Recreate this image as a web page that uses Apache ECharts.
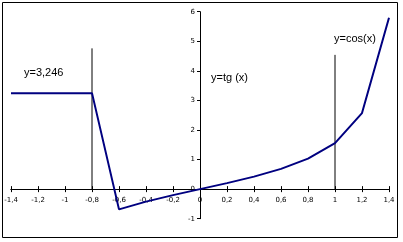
<!DOCTYPE html>
<html>
<head>
<meta charset="utf-8">
<script src="https://cdn.jsdelivr.net/npm/echarts@6/dist/echarts.min.js"></script>
<style>
  html, body { margin: 0; padding: 0; background: #fff; }
  #main { width: 403px; height: 242px; }
</style>
</head>
<body>
<div id="main"></div>
<script>
// x values and the plotted function values
const xValues = [-1.4, -1.2, -1, -0.8, -0.6, -0.4, -0.2, 0, 0.2, 0.4, 0.6, 0.8, 1, 1.2, 1.4];
const yValues = [3.246, 3.246, 3.246, 3.246, -0.684, -0.423, -0.203, 0, 0.203, 0.423, 0.684, 1.03, 1.557, 2.572, 5.798];

// vertical marker lines (x position, top value)
const markerX = [-0.8, 1];
const markerTop = [4.76, 4.54];

const annotations = ['y=3,246', 'y=tg (x)', 'y=cos(x)'];

const chart = echarts.init(document.getElementById('main'));

const fmt = (v) => String(+v.toFixed(1)).replace('.', ',');

const tickFont = { fontFamily: 'DejaVu Sans', fontSize: 7, color: '#000' };

// ECharts only lets one of the two axes snap to zero, so the y axis is
// shifted into the middle of the grid by hand (x range is symmetric)
const gridLeft = 11, gridRight = 14;
const yAxisShift = -(403 - gridLeft - gridRight) / 2;

const xBase = { type: 'value', min: -1.4, max: 1.4, interval: 0.2, splitLine: { show: false } };
const yBase = { type: 'value', min: -1, max: 6, interval: 1, splitLine: { show: false } };

const option = {
  backgroundColor: '#fff',
  animation: false,
  grid: { left: gridLeft, right: gridRight, top: 11.7, bottom: 23.3 },
  xAxis: [
    Object.assign({}, xBase, {
      position: 'bottom',
      axisLine: { onZero: true, onZeroAxisIndex: 0, lineStyle: { color: '#000', width: 1 } },
      axisTick: { show: true, length: 3, lineStyle: { color: '#000' } },
      // labels stay on the grid edge, pull them up under the zero line
      axisLabel: Object.assign({ margin: -22, formatter: fmt }, tickFont)
    }),
    // second copy only to get the upper half of the crossing ticks
    Object.assign({}, xBase, {
      position: 'top',
      axisLine: { onZero: true, onZeroAxisIndex: 1, lineStyle: { color: '#000', width: 1 } },
      axisTick: { show: true, length: 3, lineStyle: { color: '#000' } },
      axisLabel: { show: false }
    })
  ],
  yAxis: [
    Object.assign({}, yBase, {
      offset: yAxisShift,
      axisLine: { show: true, onZero: false, lineStyle: { color: '#000', width: 1 } },
      axisTick: { show: true, length: 3, lineStyle: { color: '#000' } },
      axisLabel: Object.assign({ margin: 5 }, tickFont)
    }),
    Object.assign({}, yBase, {
      position: 'left',
      axisLine: { show: false, onZero: false },
      axisTick: { show: false },
      axisLabel: { show: false }
    })
  ],
  series: [
    {
      type: 'line',
      data: xValues.map((x, i) => [x, yValues[i]]),
      showSymbol: false,
      lineStyle: { color: '#000080', width: 2 },
      z: 3
    }
  ].concat(markerX.map((x, i) => ({
    type: 'line',
    data: [[x, 0], [x, markerTop[i]]],
    showSymbol: false,
    lineStyle: { color: '#000', width: 1 },
    z: 2
  }))),
  graphic: [
    { type: 'rect', shape: { x: 2.5, y: 2.5, width: 395, height: 235 },
      style: { fill: 'none', stroke: '#000', lineWidth: 1 } },
    { type: 'text', left: 24, top: 67,
      style: { text: annotations[0], font: '11px "Liberation Sans"', fill: '#000' } },
    { type: 'text', left: 211, top: 72,
      style: { text: annotations[1], font: '11px "Liberation Sans"', fill: '#000' } },
    { type: 'text', left: 334, top: 33,
      style: { text: annotations[2], font: '11px "Liberation Sans"', fill: '#000' } }
  ]
};

chart.setOption(option);
</script>
</body>
</html>
